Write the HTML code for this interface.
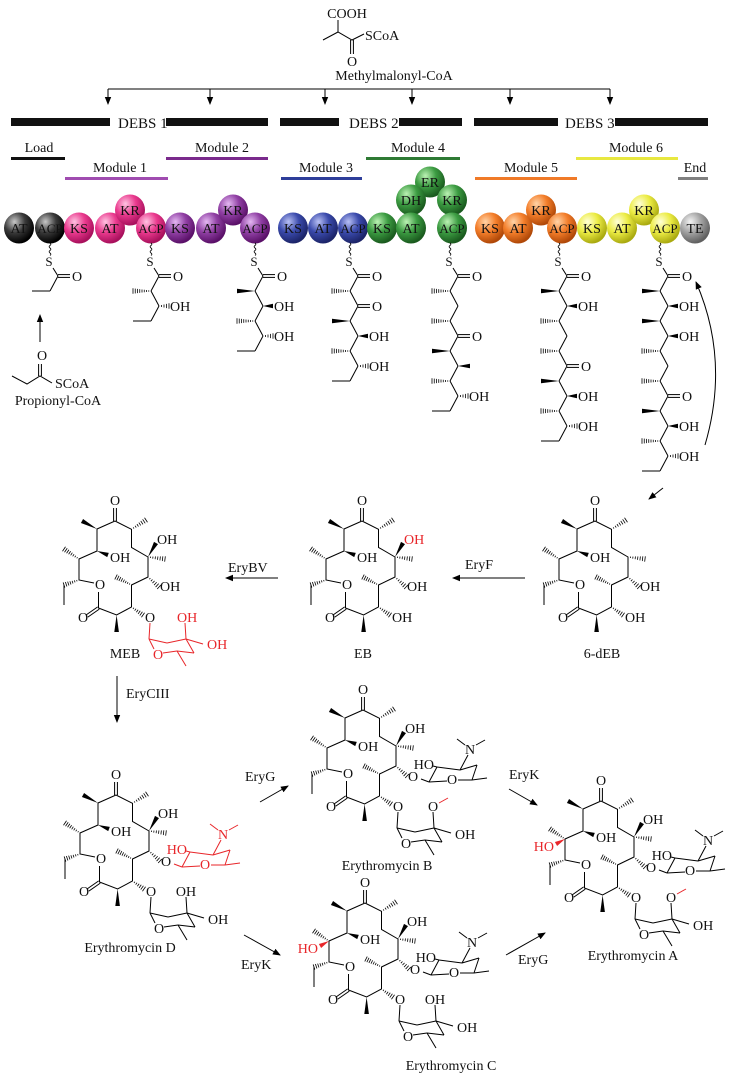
<!DOCTYPE html>
<html><head><meta charset="utf-8"><style>
html,body{margin:0;padding:0;background:#fff}
svg{display:block}
text{font-family:"Liberation Serif",serif;fill:#111}
.t{font-size:14px}
.b{font-size:14px;text-anchor:middle}
.m{text-anchor:middle}
.r{fill:#e8262a}
</style></head><body>
<svg id="svg" xmlns="http://www.w3.org/2000/svg" width="745" height="1080" viewBox="0 0 745 1080">
<defs>
<marker id="ah" markerWidth="8" markerHeight="8" refX="7" refY="4" orient="auto" markerUnits="userSpaceOnUse"><path d="M0,0.8 L8,4 L0,7.2 z" fill="#000"/></marker>
<radialGradient id="gk" cx="35%" cy="30%" r="70%"><stop offset="0" stop-color="#c8c8c8"/><stop offset="0.5" stop-color="#3a3a3a"/><stop offset="1" stop-color="#000"/></radialGradient>
<radialGradient id="gp" cx="35%" cy="30%" r="70%"><stop offset="0" stop-color="#ffc4e2"/><stop offset="0.5" stop-color="#ea3a8e"/><stop offset="1" stop-color="#a8105c"/></radialGradient>
<radialGradient id="gu" cx="35%" cy="30%" r="70%"><stop offset="0" stop-color="#e4b8f2"/><stop offset="0.5" stop-color="#9040a4"/><stop offset="1" stop-color="#5a1068"/></radialGradient>
<radialGradient id="gb" cx="35%" cy="30%" r="70%"><stop offset="0" stop-color="#b8c0f4"/><stop offset="0.5" stop-color="#3a4aac"/><stop offset="1" stop-color="#1c2468"/></radialGradient>
<radialGradient id="gg" cx="35%" cy="30%" r="70%"><stop offset="0" stop-color="#bcf2b4"/><stop offset="0.5" stop-color="#3c9c42"/><stop offset="1" stop-color="#1a5a1e"/></radialGradient>
<radialGradient id="go" cx="35%" cy="30%" r="70%"><stop offset="0" stop-color="#ffd4a8"/><stop offset="0.5" stop-color="#f47e2a"/><stop offset="1" stop-color="#b04808"/></radialGradient>
<radialGradient id="gy" cx="35%" cy="30%" r="70%"><stop offset="0" stop-color="#ffffd8"/><stop offset="0.5" stop-color="#ecec44"/><stop offset="1" stop-color="#aaaa10"/></radialGradient>
<radialGradient id="ga" cx="35%" cy="30%" r="70%"><stop offset="0" stop-color="#f4f4f4"/><stop offset="0.5" stop-color="#a4a4a4"/><stop offset="1" stop-color="#606060"/></radialGradient>
</defs>
<rect width="745" height="1080" fill="#fff"/>

<!-- Methylmalonyl-CoA -->
<text class="t m" x="347" y="18">COOH</text>
<text class="t" x="365" y="40">SCoA</text>
<text class="t m" x="352" y="66">O</text>
<text class="t m" x="394" y="80">Methylmalonyl-CoA</text>
<g stroke="#000" stroke-width="1" fill="none">
<line x1="108" y1="89" x2="610" y2="89"/>
<line x1="108" y1="89" x2="108" y2="104" marker-end="url(#ah)"/>
<line x1="210" y1="89" x2="210" y2="104" marker-end="url(#ah)"/>
<line x1="325" y1="89" x2="325" y2="104" marker-end="url(#ah)"/>
<line x1="412" y1="89" x2="412" y2="104" marker-end="url(#ah)"/>
<line x1="510" y1="89" x2="510" y2="104" marker-end="url(#ah)"/>
<line x1="610" y1="89" x2="610" y2="104" marker-end="url(#ah)"/>
</g>

<!-- DEBS bars -->
<g fill="#111">
<rect x="11" y="118" width="99" height="8"/>
<rect x="166" y="118" width="102" height="8"/>
<rect x="280" y="118" width="59" height="8"/>
<rect x="399" y="118" width="63" height="8"/>
<rect x="474" y="118" width="84" height="8"/>
<rect x="615" y="118" width="93" height="8"/>
</g>
<text x="118" y="128" style="font-size:15px">DEBS 1</text>
<text x="349" y="128" style="font-size:15px">DEBS 2</text>
<text x="565" y="128" style="font-size:15px">DEBS 3</text>

<!-- module labels -->
<text class="t m" x="39" y="152">Load</text>
<rect x="11" y="157" width="54" height="3" fill="#111"/>
<text class="t m" x="120" y="172">Module 1</text>
<rect x="65" y="177" width="103" height="3" fill="#a04cb0"/>
<text class="t m" x="222" y="152">Module 2</text>
<rect x="166" y="157" width="102" height="3" fill="#7a2a8c"/>
<text class="t m" x="326" y="172">Module 3</text>
<rect x="281" y="177" width="81" height="3" fill="#2e3e9a"/>
<text class="t m" x="418" y="152">Module 4</text>
<rect x="366" y="157" width="94" height="3" fill="#2e7a34"/>
<text class="t m" x="531" y="172">Module 5</text>
<rect x="475" y="177" width="102" height="3" fill="#f07a28"/>
<text class="t m" x="636" y="152">Module 6</text>
<rect x="576" y="157" width="102" height="3" fill="#e8e840"/>
<text class="t m" x="695" y="172">End</text>
<rect x="678" y="177" width="30" height="3" fill="#808080"/>

<!-- domain balls -->
<g class="balls">
<ellipse cx="19" cy="228" rx="15" ry="15.5" fill="url(#gk)"/><text class="b" x="19" y="233">AT</text>
<ellipse cx="50" cy="228" rx="15" ry="15.5" fill="url(#gk)"/><text class="b" x="50" y="233" style="font-size:13px">ACP</text>
<ellipse cx="79" cy="228" rx="15" ry="15.5" fill="url(#gp)"/><text class="b" x="79" y="233">KS</text>
<ellipse cx="110" cy="228" rx="15" ry="15.5" fill="url(#gp)"/><text class="b" x="110" y="233">AT</text>
<ellipse cx="130" cy="210" rx="15" ry="15.5" fill="url(#gp)"/><text class="b" x="130" y="215">KR</text>
<ellipse cx="151" cy="228" rx="15" ry="15.5" fill="url(#gp)"/><text class="b" x="151" y="233" style="font-size:13px">ACP</text>
<ellipse cx="180" cy="228" rx="15" ry="15.5" fill="url(#gu)"/><text class="b" x="180" y="233">KS</text>
<ellipse cx="211" cy="228" rx="15" ry="15.5" fill="url(#gu)"/><text class="b" x="211" y="233">AT</text>
<ellipse cx="233" cy="210" rx="15" ry="15.5" fill="url(#gu)"/><text class="b" x="233" y="215">KR</text>
<ellipse cx="255" cy="228" rx="15" ry="15.5" fill="url(#gu)"/><text class="b" x="255" y="233" style="font-size:13px">ACP</text>
<ellipse cx="293" cy="228" rx="15" ry="15.5" fill="url(#gb)"/><text class="b" x="293" y="233">KS</text>
<ellipse cx="323" cy="228" rx="15" ry="15.5" fill="url(#gb)"/><text class="b" x="323" y="233">AT</text>
<ellipse cx="353" cy="228" rx="15" ry="15.5" fill="url(#gb)"/><text class="b" x="353" y="233" style="font-size:13px">ACP</text>
<ellipse cx="382" cy="228" rx="15" ry="15.5" fill="url(#gg)"/><text class="b" x="382" y="233">KS</text>
<ellipse cx="430" cy="182" rx="15" ry="15.5" fill="url(#gg)"/><text class="b" x="430" y="187">ER</text>
<ellipse cx="411" cy="200" rx="15" ry="15.5" fill="url(#gg)"/><text class="b" x="411" y="205">DH</text>
<ellipse cx="411" cy="228" rx="15" ry="15.5" fill="url(#gg)"/><text class="b" x="411" y="233">AT</text>
<ellipse cx="452" cy="200" rx="15" ry="15.5" fill="url(#gg)"/><text class="b" x="452" y="205">KR</text>
<ellipse cx="452" cy="228" rx="15" ry="15.5" fill="url(#gg)"/><text class="b" x="452" y="233" style="font-size:13px">ACP</text>
<ellipse cx="490" cy="228" rx="15" ry="15.5" fill="url(#go)"/><text class="b" x="490" y="233">KS</text>
<ellipse cx="518" cy="228" rx="15" ry="15.5" fill="url(#go)"/><text class="b" x="518" y="233">AT</text>
<ellipse cx="541" cy="210" rx="15" ry="15.5" fill="url(#go)"/><text class="b" x="541" y="215">KR</text>
<ellipse cx="562" cy="228" rx="15" ry="15.5" fill="url(#go)"/><text class="b" x="562" y="233" style="font-size:13px">ACP</text>
<ellipse cx="592" cy="228" rx="15" ry="15.5" fill="url(#gy)"/><text class="b" x="592" y="233">KS</text>
<ellipse cx="622" cy="228" rx="15" ry="15.5" fill="url(#gy)"/><text class="b" x="622" y="233">AT</text>
<ellipse cx="644" cy="210" rx="15" ry="15.5" fill="url(#gy)"/><text class="b" x="644" y="215">KR</text>
<ellipse cx="665" cy="228" rx="15" ry="15.5" fill="url(#gy)"/><text class="b" x="665" y="233" style="font-size:13px">ACP</text>
<ellipse cx="695" cy="228" rx="15" ry="15.5" fill="url(#ga)"/><text class="b" x="695" y="233">TE</text>
</g>

<g id="bonds"></g>

<!-- chain labels -->
<g class="t">
<text class="t m" x="49" y="266" style="font-size:13px">S</text><text class="t" x="72" y="281">O</text>
<text class="t m" x="150" y="266" style="font-size:13px">S</text><text class="t" x="173" y="281">O</text><text class="t" x="170" y="311">OH</text>
<text class="t m" x="254" y="266" style="font-size:13px">S</text><text class="t" x="277" y="281">O</text><text class="t" x="274" y="311">OH</text><text class="t" x="274" y="341">OH</text>
<text class="t m" x="349" y="266" style="font-size:13px">S</text><text class="t" x="372" y="281">O</text><text class="t" x="372" y="311">O</text><text class="t" x="369" y="341">OH</text><text class="t" x="369" y="371">OH</text>
<text class="t m" x="449" y="266" style="font-size:13px">S</text><text class="t" x="472" y="281">O</text><text class="t" x="472" y="341">O</text><text class="t" x="469" y="401">OH</text>
<text class="t m" x="558" y="266" style="font-size:13px">S</text><text class="t" x="581" y="281">O</text><text class="t" x="578" y="311">OH</text><text class="t" x="581" y="371">O</text><text class="t" x="578" y="401">OH</text><text class="t" x="578" y="431">OH</text>
<text class="t m" x="659" y="266" style="font-size:13px">S</text><text class="t" x="682" y="281">O</text><text class="t" x="679" y="311">OH</text><text class="t" x="679" y="341">OH</text><text class="t" x="682" y="401">O</text><text class="t" x="679" y="431">OH</text><text class="t" x="679" y="461">OH</text>
</g>

<!-- propionyl -->
<text class="t m" x="42" y="360">O</text>
<text class="t" x="55" y="388">SCoA</text>
<text class="t m" x="58" y="405">Propionyl-CoA</text>

<!-- MEB -->
<text class="t m" x="115" y="505">O</text>
<text class="t" x="110" y="562">OH</text>
<text class="t" x="157" y="544">OH</text>
<text class="t" x="160" y="591">OH</text>
<text class="t" x="145" y="622">O</text>
<text class="t m" x="83" y="622">O</text>
<text class="t m" x="100" y="589">O</text>
<text class="t r" x="177" y="622">OH</text>
<text class="t r" x="207" y="649">OH</text>
<text class="t m r" x="158" y="659">O</text>
<text class="t m" x="125" y="658">MEB</text>

<!-- EB -->
<text class="t m" x="362" y="505">O</text>
<text class="t" x="357" y="562">OH</text>
<text class="t r" x="404" y="544">OH</text>
<text class="t" x="407" y="591">OH</text>
<text class="t" x="392" y="622">OH</text>
<text class="t m" x="330" y="622">O</text>
<text class="t m" x="347" y="589">O</text>
<text class="t m" x="363" y="658">EB</text>

<!-- 6-dEB -->
<g transform="translate(5,0)">
<text class="t m" x="590" y="505">O</text>
<text class="t" x="585" y="562">OH</text>
<text class="t" x="635" y="591">OH</text>
<text class="t" x="620" y="622">OH</text>
<text class="t m" x="558" y="622">O</text>
<text class="t m" x="575" y="589">O</text>
<text class="t m" x="597" y="658">6-dEB</text>
</g>

<!-- Ery D -->
<text class="t m" x="116" y="779">O</text>
<text class="t" x="111" y="836">OH</text>
<text class="t" x="158" y="818">OH</text>
<text class="t" x="161" y="866">O</text>
<text class="t r" x="187" y="854" text-anchor="end">HO</text>
<text class="t m r" x="205" y="869">O</text>
<text class="t m r" x="223" y="839">N</text>
<text class="t" x="146" y="896">O</text>
<text class="t m" x="186" y="896">OH</text>
<text class="t" x="208" y="924">OH</text>
<text class="t m" x="159" y="933">O</text>
<text class="t m" x="84" y="896">O</text>
<text class="t m" x="101" y="863">O</text>
<text class="t m" x="130" y="952">Erythromycin D</text>

<!-- Ery B -->
<g transform="translate(5,0)">
<text class="t m" x="358" y="694">O</text>
<text class="t" x="353" y="751">OH</text>
<text class="t" x="400" y="733">OH</text>
<text class="t" x="403" y="781">O</text>
<text class="t" x="429" y="769" text-anchor="end">HO</text>
<text class="t m" x="447" y="784">O</text>
<text class="t m" x="465" y="754">N</text>
<text class="t" x="388" y="811">O</text>
<text class="t m" x="428" y="811">O</text>
<text class="t" x="450" y="839">OH</text>
<text class="t m" x="401" y="848">O</text>
<text class="t m" x="326" y="811">O</text>
<text class="t m" x="343" y="778">O</text>
<text class="t m" x="382" y="870">Erythromycin B</text>
</g>

<!-- Ery C -->
<g transform="translate(5,0)">
<text class="t m" x="360" y="887">O</text>
<text class="t" x="355" y="944">OH</text>
<text class="t" x="402" y="926">OH</text>
<text class="t r" x="313" y="953" text-anchor="end">HO</text>
<text class="t" x="405" y="974">O</text>
<text class="t" x="431" y="962" text-anchor="end">HO</text>
<text class="t m" x="449" y="977">O</text>
<text class="t m" x="467" y="947">N</text>
<text class="t" x="390" y="1004">O</text>
<text class="t m" x="430" y="1004">OH</text>
<text class="t" x="452" y="1032">OH</text>
<text class="t m" x="403" y="1041">O</text>
<text class="t m" x="328" y="1004">O</text>
<text class="t m" x="345" y="971">O</text>
<text class="t m" x="446" y="1070">Erythromycin C</text>
</g>

<!-- Ery A -->
<g transform="translate(9,0)">
<text class="t m" x="592" y="785">O</text>
<text class="t" x="587" y="842">OH</text>
<text class="t" x="634" y="824">OH</text>
<text class="t r" x="545" y="851" text-anchor="end">HO</text>
<text class="t" x="637" y="872">O</text>
<text class="t" x="663" y="860" text-anchor="end">HO</text>
<text class="t m" x="681" y="875">O</text>
<text class="t m" x="699" y="845">N</text>
<text class="t" x="622" y="902">O</text>
<text class="t m" x="662" y="902">O</text>
<text class="t" x="684" y="930">OH</text>
<text class="t m" x="635" y="939">O</text>
<text class="t m" x="560" y="902">O</text>
<text class="t m" x="577" y="869">O</text>
<text class="t m" x="624" y="960">Erythromycin A</text>
</g>

<!-- enzyme arrows -->
<g stroke="#000" stroke-width="1" fill="none">
<line x1="40" y1="342" x2="40" y2="315" marker-end="url(#ah)"/>
<line x1="278" y1="578" x2="226" y2="578" marker-end="url(#ah)"/>
<line x1="525" y1="578" x2="453" y2="578" marker-end="url(#ah)"/>
<line x1="117" y1="676" x2="117" y2="722" marker-end="url(#ah)"/>
<line x1="260" y1="802" x2="288" y2="786" marker-end="url(#ah)"/>
<line x1="509" y1="789" x2="537" y2="805" marker-end="url(#ah)"/>
<line x1="244" y1="935" x2="280" y2="955" marker-end="url(#ah)"/>
<line x1="506" y1="955" x2="545" y2="933" marker-end="url(#ah)"/>
<line x1="663" y1="488" x2="649" y2="499" marker-end="url(#ah)"/>
<path d="M705,445 Q730,360 696,282" marker-end="url(#ah)"/>
</g>
<text class="t" x="228" y="572">EryBV</text>
<text class="t" x="465" y="569">EryF</text>
<text class="t" x="126" y="698">EryCIII</text>
<text class="t" x="245" y="781">EryG</text>
<text class="t" x="509" y="779">EryK</text>
<text class="t" x="241" y="969">EryK</text>
<text class="t" x="518" y="964">EryG</text>
</svg>
<script>
(function(){
const NS='http://www.w3.org/2000/svg';
const G=document.getElementById('bonds');
function el(n,a){const e=document.createElementNS(NS,n);for(const k in a)e.setAttribute(k,a[k]);G.appendChild(e);return e;}
function L(x1,y1,x2,y2,c,w){el('line',{x1:x1,y1:y1,x2:x2,y2:y2,stroke:c||'#000','stroke-width':w||1});}
function W(x1,y1,x2,y2,c){const dx=x2-x1,dy=y2-y1,l=Math.hypot(dx,dy),nx=-dy/l*2.3,ny=dx/l*2.3;el('polygon',{points:x1+','+y1+' '+(x2+nx)+','+(y2+ny)+' '+(x2-nx)+','+(y2-ny),fill:c||'#000'});}
function H(x1,y1,x2,y2,c){const dx=x2-x1,dy=y2-y1,l=Math.hypot(dx,dy),ux=-dy/l,uy=dx/l;const n=Math.max(4,Math.round(l/2.3));for(let i=1;i<=n;i++){const t=i/n,px=x1+dx*t,py=y1+dy*t,w=0.4+2.3*t;L(px-ux*w,py-uy*w,px+ux*w,py+uy*w,c,0.8);}}
function D(x1,y1,x2,y2,c){const dx=x2-x1,dy=y2-y1,l=Math.hypot(dx,dy),ux=-dy/l*1.4,uy=dx/l*1.4;L(x1+ux,y1+uy,x2+ux,y2+uy,c);L(x1-ux,y1-uy,x2-ux,y2-uy,c);}
function P(pts,c){el('polyline',{points:pts.map(p=>p[0]+','+p[1]).join(' '),fill:'none',stroke:c||'#000','stroke-width':1});}
function wavy(x,y1,y2){let d='M'+x+','+y1;let s=1;for(let y=y1;y<y2;y+=2.5){d+=' Q'+(x+1.8*s)+','+(y+1.25)+' '+x+','+(y+2.5);s=-s;}el('path',{d:d,fill:'none',stroke:'#000','stroke-width':0.8});}
function chain(x0,subs){const Y=k=>276+15*(k-1),X=k=>k%2?x0:x0-8;const n=subs.length;
 wavy(x0-8,243,255);L(x0-5,268,x0,276);
 for(let k=1;k<=n;k++){const x=X(k),y=Y(k);if(k<n)L(x,y,X(k+1),Y(k+1));const s=subs[k-1];
  if(s=='O')D(x,y,x+12,y);else if(s=='OHb')W(x,y,x+10,y);else if(s=='OHh')H(x,y,x+10,y);
  else if(s=='Mb')W(x,y,x-18,y);else if(s=='Mh')H(x,y,x-18,y);else if(s=='MbR')W(x,y,x+12,y);else if(s=='E')L(x,y,x-18,y);}}
chain(58,['O','E']);
chain(159,['O','Mh','OHh','E']);
chain(263,['O','Mb','OHb','Mh','OHh','E']);
chain(358,['O','Mh','O','Mb','OHb','Mh','OHh','E']);
chain(458,['O','Mh','','Mh','O','Mb','MbR','Mh','OHh','E']);
chain(567,['O','Mb','OHb','Mh','','Mh','O','Mb','OHb','Mh','OHh','E']);
chain(668,['O','Mb','OHb','Mb','OHb','Mh','','Mh','O','Mb','OHb','Mh','OHh','E']);
P([[12,376],[27,384],[40,376],[52,383]]);D(40,376,40,364);
L(338,20,338,32);P([[323,40],[338,32],[352,40],[364,34]]);D(352,40,352,54);
function ring(X,Y,o){const q=a=>[X+a[0],Y+a[1]];
 P([[0,0],[16.5,8.3],[16.5,26.4],[33,36],[33,56],[16.5,64],[16.5,86],[1.6,94],[-16.5,87],[-16.5,71]].map(q));
 P([[-21,62],[-36,59],[-36,38],[-18,30],[-18,8],[0,0]].map(q));
 const ln=(f,a,b,c)=>{const A=q(a),B=q(b);f(A[0],A[1],B[0],B[1],c);};
 ln(D,[0,0],[0,-13]);ln(H,[16.5,8.3],[31,-1]);ln(W,[-18,8],[-33,0]);ln(W,[-18,30],[-7,34]);
 if(o.c6!==false)ln(W,[33,36],[41,22],o.c6);
 ln(H,[33,36],[50,38]);ln(H,[33,56],[44,66]);ln(H,[16.5,64],[1,56]);ln(H,[16.5,86],[28,94]);
 ln(W,[1.6,94],[1.6,111]);ln(D,[-16.5,87],[-28,95]);ln(H,[-36,59],[-51,64]);ln(L,[-51,64],[-51,84]);
 ln(H,[-36,38],[-51,28]);if(o.c12)ln(W,[-36,38],[-45,43],'#e8262a');}
function desos(px,py,c){const q=a=>[px+a[0],py+a[1]];const ln=(a,b)=>{const A=q(a),B=q(b);L(A[0],A[1],B[0],B[1],c);};
 ln([6,3],[14,6]);ln([14,6],[22,-9]);ln([22,-9],[18,-10]);ln([22,-9],[45,-6]);ln([45,-6],[53,-21]);
 ln([50,-31],[42,-37]);ln([61,-31],[70,-36]);ln([45,-6],[62,-11]);ln([62,-11],[57,4]);ln([57,4],[72,2]);
 ln([57,4],[43,4]);ln([32,5],[14,6]);}
function myc(px,py,c,clad){const q=a=>[px+a[0],py+a[1]];const ln=(a,b,cc)=>{const A=q(a),B=q(b);L(A[0],A[1],B[0],B[1],cc||c);};
 ln([0,6],[-1,22]);ln([-1,22],[17,26]);ln([17,26],[36,22]);ln([36,22],[44,36]);ln([44,36],[27,34]);
 ln([27,34],[13,36]);ln([4,32],[-1,22]);ln([36,22],[35,6]);ln([36,22],[53,27]);ln([27,34],[36,49]);
 if(clad)ln([41,-3],[50,-8],'#e8262a');}
ring(115,521,{});myc(150,617,'#e8262a',false);
ring(362,521,{c6:'#000'});
ring(595,521,{c6:false});
ring(116,795,{});desos(168,861,'#e8262a');myc(151,891,'#000',false);
ring(363,710,{});desos(415,776,'#000');myc(398,806,'#000',true);
ring(365,903,{c12:true});desos(417,969,'#000');myc(400,999,'#000',false);
ring(601,801,{c12:true});desos(653,867,'#000');myc(636,897,'#000',true);
})();
</script>
</body></html>
